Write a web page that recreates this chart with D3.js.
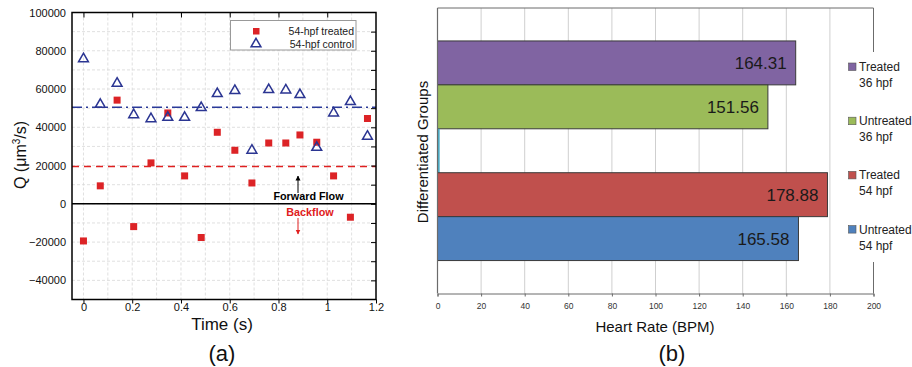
<!DOCTYPE html>
<html><head><meta charset="utf-8">
<script src="https://cdn.jsdelivr.net/npm/d3@7"></script>
<style>body{margin:0;background:#fff}svg{display:block;font-family:"Liberation Sans",Arial,sans-serif}</style>
</head><body><svg id="c" width="912" height="367"></svg>
<script>
// ---------- Data: panel (a) ----------
const times = [0, 0.069, 0.138, 0.206, 0.277, 0.346, 0.415, 0.483, 0.549, 0.621, 0.691, 0.76, 0.83, 0.888, 0.957, 1.026, 1.095, 1.165];
const treatedQ = [-19400, 9400, 54200, -11900, 21400, 47500, 14600, -17600, 37400, 28000, 10900, 31800, 31800, 36000, 32200, 14600, -7000, 44600];
const controlQ = [76000, 52200, 63200, 46800, 44700, 45400, 45400, 50500, 57800, 59400, 28200, 59900, 59700, 57300, 29700, 47700, 53600, 35500];
const treatedMean = 19500;
const controlMean = 50500;
const qTicks = [-40000, -20000, 0, 20000, 40000, 60000, 80000, 100000];
const tTicks = [0, 0.2, 0.4, 0.6, 0.8, 1, 1.2];
const seriesNames = ["54-hpf treated", "54-hpf control"];

// ---------- Data: panel (b) ----------
const groups = ["Treated 36 hpf", "Untreated 36 hpf", "gap", "Treated 54 hpf", "Untreated 54 hpf"];
const groupLines = [["Treated", "36 hpf"], ["Untreated", "36 hpf"], null, ["Treated", "54 hpf"], ["Untreated", "54 hpf"]];
const heartRates = [164.31, 151.56, 1, 178.88, 165.58];
const groupColors = ["#8064a2", "#9bbb59", "#4bacc6", "#c0504d", "#4f81bd"];
const bpmTicks = [0, 20, 40, 60, 80, 100, 120, 140, 160, 180, 200];

const svg = d3.select("#c");

// ================= Panel (a) =================
const A = {l: 72, r: 376, t: 12.5, b: 299.5};
const x = d3.scaleLinear().domain([-0.047, 1.2]).range([A.l, A.r]);
const y = d3.scaleLinear().domain([-50000, 100000]).range([A.b, A.t]);
const ga = svg.append("g");

// grid
ga.append("g").selectAll("line").data(d3.range(0, 1.21, 0.1).filter(v => x(v) < A.r - 1))
  .join("line").attr("x1", d => x(d)).attr("x2", d => x(d)).attr("y1", A.t).attr("y2", A.b)
  .attr("stroke", "#d8d8d8").attr("stroke-dasharray", "3,2").attr("stroke-width", 0.8);
ga.append("g").selectAll("line").data(d3.range(-40000, 100000, 10000))
  .join("line").attr("y1", d => y(d)).attr("y2", d => y(d)).attr("x1", A.l).attr("x2", A.r)
  .attr("stroke", "#d8d8d8").attr("stroke-dasharray", "3,2").attr("stroke-width", 0.8);

// mean lines
ga.append("line").attr("x1", A.l).attr("x2", A.r).attr("y1", y(controlMean)).attr("y2", y(controlMean))
  .attr("stroke", "#2b3a99").attr("stroke-width", 1.5).attr("stroke-dasharray", "10,4,2,4");
ga.append("line").attr("x1", A.l).attr("x2", A.r).attr("y1", y(treatedMean)).attr("y2", y(treatedMean))
  .attr("stroke", "#e02020").attr("stroke-width", 1.5).attr("stroke-dasharray", "7,5");
ga.append("line").attr("x1", A.l).attr("x2", A.r).attr("y1", y(0)).attr("y2", y(0))
  .attr("stroke", "#000").attr("stroke-width", 1.5);

// axes
const xAxis = d3.axisBottom(x).tickValues(tTicks).tickSize(4).tickFormat(d3.format("~g"));
const gx = ga.append("g").attr("transform", `translate(0,${A.b})`).call(xAxis);
gx.select(".domain").remove();
gx.selectAll("text").attr("font-size", 11).attr("fill", "#111").attr("y", 4);
gx.selectAll("line").attr("stroke", "#000");
const yAxis = d3.axisLeft(y).tickValues(qTicks).tickSize(0).tickPadding(6).tickFormat(d3.format("d"));
const gy = ga.append("g").attr("transform", `translate(${A.l},0)`).call(yAxis);
gy.select(".domain").remove();
gy.selectAll("text").attr("font-size", 11).attr("fill", "#111");
// top & right inner ticks
const gt = ga.append("g").attr("transform", `translate(0,${A.t})`).call(d3.axisTop(x).tickValues(tTicks.filter(v => x(v) < A.r - 2)).tickSize(-5).tickFormat(""));
gt.select(".domain").remove(); gt.selectAll("line").attr("stroke", "#000");
const gr = ga.append("g").attr("transform", `translate(${A.r},0)`).call(d3.axisRight(y).tickValues(d3.range(-40000, 100000, 10000)).tickSize(-5).tickFormat(""));
gr.select(".domain").remove(); gr.selectAll("line").attr("stroke", "#000");
ga.append("rect").attr("x", A.l).attr("y", A.t).attr("width", A.r - A.l).attr("height", A.b - A.t)
  .attr("fill", "none").attr("stroke", "#000").attr("stroke-width", 1.5);

// points
ga.append("g").selectAll("rect").data(times.map((t, i) => [t, treatedQ[i]])).join("rect")
  .attr("x", d => x(d[0]) - 3.5).attr("y", d => y(d[1]) - 3.5).attr("width", 7).attr("height", 7).attr("fill", "#dc2326");
const tri = d3.symbol().type(d3.symbolTriangle).size(42);
ga.append("g").selectAll("path").data(times.map((t, i) => [t, controlQ[i]])).join("path")
  .attr("d", tri).attr("transform", d => `translate(${x(d[0])},${y(d[1]) + 0.5})`)
  .attr("fill", "none").attr("stroke", "#2b3592").attr("stroke-width", 1.5);

// legend
const lg = ga.append("g");
lg.append("rect").attr("x", 230.5).attr("y", 20.5).attr("width", 125.5).attr("height", 29.5)
  .attr("fill", "#fff").attr("stroke", "#999").attr("stroke-width", 1);
lg.append("rect").attr("x", 253).attr("y", 28).attr("width", 6.5).attr("height", 6.5).attr("fill", "#dc2326");
lg.append("path").attr("d", tri).attr("transform", "translate(256,44)").attr("fill", "none").attr("stroke", "#2b3592").attr("stroke-width", 1.5);
lg.selectAll("text").data(seriesNames).join("text").attr("x", 354).attr("y", (d, i) => 35 + i * 13)
  .attr("text-anchor", "end").attr("font-size", 10.5).attr("fill", "#222").text(d => d);

// annotations
const defs = svg.append("defs");
[["ahB", "#000"], ["ahR", "#e02020"]].forEach(([id, c]) => {
  defs.append("marker").attr("id", id).attr("viewBox", "0 0 10 10").attr("refX", 9).attr("refY", 5)
    .attr("markerWidth", 5).attr("markerHeight", 6).attr("orient", "auto")
    .append("path").attr("d", "M0,0L10,5L0,10z").attr("fill", c);
});
ga.append("line").attr("x1", 298).attr("x2", 298).attr("y1", 193).attr("y2", 176).attr("stroke", "#000").attr("stroke-width", 1).attr("marker-end", "url(#ahB)");
ga.append("text").attr("x", 308.5).attr("y", 200).attr("text-anchor", "middle").attr("font-size", 10.8).attr("font-weight", "bold").attr("fill", "#000").text("Forward Flow");
ga.append("text").attr("x", 310).attr("y", 216).attr("text-anchor", "middle").attr("font-size", 10.8).attr("font-weight", "bold").attr("fill", "#e02020").text("Backflow");
ga.append("line").attr("x1", 298).attr("x2", 298).attr("y1", 218).attr("y2", 234).attr("stroke", "#e02020").attr("stroke-width", 1).attr("marker-end", "url(#ahR)");

// titles
const qt = ga.append("text").attr("transform", "translate(26,155) rotate(-90)").attr("text-anchor", "middle").attr("font-size", 16).attr("fill", "#111");
qt.append("tspan").text("Q (μm");
qt.append("tspan").attr("font-size", 10).attr("dy", -6).text("3");
qt.append("tspan").attr("dy", 6).text("/s)");
ga.append("text").attr("x", 222).attr("y", 330).attr("text-anchor", "middle").attr("font-size", 17).attr("fill", "#111").text("Time (s)");
ga.append("text").attr("x", 222).attr("y", 361).attr("text-anchor", "middle").attr("font-size", 22).attr("fill", "#111").text("(a)");

// ================= Panel (b) =================
const B = {l: 437.5, r: 873.5, t: 8, b: 293.5};
const xb = d3.scaleLinear().domain([0, 200]).range([B.l, B.r]);
const yb = d3.scaleBand().domain(groups).range([B.t, B.b]).paddingInner(0).paddingOuter(0.75);
const gb = svg.append("g");

gb.append("g").selectAll("line").data(bpmTicks.slice(1, -1)).join("line")
  .attr("x1", d => xb(d)).attr("x2", d => xb(d)).attr("y1", B.t).attr("y2", B.b)
  .attr("stroke", "#cfcfcf").attr("stroke-width", 1);
// frame: top and right
gb.append("path").attr("d", `M${B.l},${B.t}H${B.r}V${B.b}`).attr("fill", "none").attr("stroke", "#6b6b6b").attr("stroke-width", 1);

gb.append("g").selectAll("rect").data(groups).join("rect")
  .attr("x", xb(0)).attr("y", d => yb(d)).attr("width", (d, i) => xb(heartRates[i]) - xb(0)).attr("height", yb.bandwidth())
  .attr("fill", (d, i) => groupColors[i]).attr("stroke", (d, i) => i === 2 ? "none" : "#3a3a3a").attr("stroke-width", 1);
gb.append("g").selectAll("text").data(groups.filter((d, i) => i !== 2)).join("text")
  .attr("x", d => xb(heartRates[groups.indexOf(d)]) - 9).attr("y", d => yb(d) + yb.bandwidth() / 2 + 6)
  .attr("text-anchor", "end").attr("font-size", 17).attr("fill", "#1a1a1a")
  .text(d => heartRates[groups.indexOf(d)].toFixed(2));

// axes
const xbAxis = d3.axisBottom(xb).tickValues(bpmTicks).tickSize(3).tickPadding(6);
const gxb = gb.append("g").attr("transform", `translate(0,${B.b})`).call(xbAxis);
gxb.select(".domain").attr("stroke", "#6b6b6b");
gxb.selectAll("line").attr("stroke", "#6b6b6b");
gxb.selectAll("text").attr("font-size", 8.5).attr("fill", "#333");
gb.append("line").attr("x1", B.l).attr("x2", B.l).attr("y1", B.t).attr("y2", B.b).attr("stroke", "#6b6b6b").attr("stroke-width", 1.2);

// legend (covers part of right frame)
const lgb = gb.append("g");
lgb.append("rect").attr("x", 845).attr("y", 52).attr("width", 67).attr("height", 210).attr("fill", "#fff");
const legItems = groups.map((g, i) => ({g, i})).filter(d => d.i !== 2);
legItems.forEach((d, k) => {
  const yy = 63 + k * 54.2;
  lgb.append("rect").attr("x", 848.5).attr("y", yy).attr("width", 7.5).attr("height", 7.5)
    .attr("fill", groupColors[d.i]).attr("stroke", "#555").attr("stroke-width", 0.6);
  const lines = groupLines[d.i];
  lgb.append("text").attr("x", 859).attr("y", yy + 8).attr("font-size", 12).attr("fill", "#222").text(lines[0]);
  lgb.append("text").attr("x", 859).attr("y", yy + 24).attr("font-size", 12).attr("fill", "#222").text(lines[1]);
});

gb.append("text").attr("transform", "translate(428,152) rotate(-90)").attr("text-anchor", "middle").attr("font-size", 15).attr("fill", "#111").text("Differentiated Groups");
gb.append("text").attr("x", 655).attr("y", 332).attr("text-anchor", "middle").attr("font-size", 15).attr("fill", "#111").text("Heart Rate (BPM)");
gb.append("text").attr("x", 672).attr("y", 361).attr("text-anchor", "middle").attr("font-size", 22).attr("fill", "#111").text("(b)");
</script></body></html>
